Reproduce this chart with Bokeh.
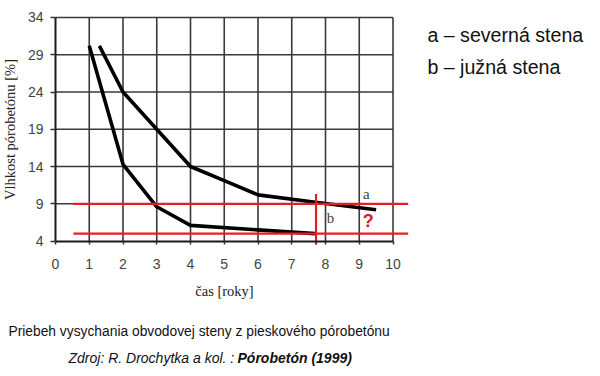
from bokeh.plotting import figure
from bokeh.models import LinearAxis, FixedTicker, Label, Range1d
from bokeh.core.properties import value
from bokeh.embed import file_html
from bokeh.resources import INLINE

# --- data ---
years_a = [1.3, 2, 3, 4, 5, 6, 7.7, 9.5]
moist_a = [30.2, 24.0, 19.0, 14.0, 12.1, 10.2, 9.2, 8.2]
years_b = [1, 2, 3, 4, 6, 7, 7.7]
moist_b = [30.2, 14.3, 8.6, 6.1, 5.5, 5.2, 5.0]
x_ticks = [0, 1, 2, 3, 4, 5, 6, 7, 8, 9, 10]
y_ticks = [4, 9, 14, 19, 24, 29, 34]
red_levels = [9, 5]
red_span = [0.53, 10.45]
red_year = 7.72
red_year_span = [3.5, 10.3]

SANS = "Liberation Sans"
SERIF = "Liberation Serif"

# the plot frame covers the whole canvas; the chart region is placed through the ranges
p = figure(width=600, height=376, x_range=Range1d(-1.6296, 16.148), y_range=Range1d(-14.178, 36.281),
           output_backend="svg", toolbar_location=None, x_axis_type=None, y_axis_type=None,
           min_border=0, min_border_left=0, min_border_right=0, min_border_top=0, min_border_bottom=0)
p.outline_line_color = None
p.background_fill_color = "white"
p.border_fill_color = "white"

# grid
gx = x_ticks[1:]
p.segment(x0=gx, y0=[y_ticks[0]] * len(gx), x1=gx, y1=[y_ticks[-1]] * len(gx),
          line_color="#3a3a3a", line_width=1.6)
gy = y_ticks[1:]
p.segment(x0=[x_ticks[0]] * len(gy), y0=gy, x1=[x_ticks[-1]] * len(gy), y1=gy,
          line_color="#3a3a3a", line_width=1.6)

# axes
xaxis = LinearAxis(ticker=FixedTicker(ticks=x_ticks), fixed_location=y_ticks[0],
                   bounds=(x_ticks[0], x_ticks[-1]), axis_label="čas [roky]")
yaxis = LinearAxis(ticker=FixedTicker(ticks=y_ticks), fixed_location=x_ticks[0],
                   bounds=(y_ticks[0], y_ticks[-1]), axis_label="Vlhkost pórobetónu [%]")
for ax in (xaxis, yaxis):
    ax.axis_line_color = "#1a1a1a"
    ax.axis_line_width = 2
    ax.major_tick_line_color = "#333333"
    ax.major_tick_line_width = 1.5
    ax.major_tick_in = 0
    ax.minor_tick_line_color = None
    ax.major_label_text_font = SANS
    ax.major_label_text_font_size = "14px"
    ax.major_label_text_color = "#444444"
    ax.axis_label_text_font = SERIF
    ax.axis_label_text_font_size = "14.5px"
    ax.axis_label_text_font_style = "normal"
    ax.axis_label_text_color = "#222222"
xaxis.major_tick_out = 3
xaxis.major_label_standoff = 15
xaxis.axis_label_standoff = 10
yaxis.major_tick_out = 5
yaxis.major_label_standoff = 7
yaxis.axis_label_standoff = 7
p.add_layout(xaxis, "below")
p.add_layout(yaxis, "left")

# curves
p.line(years_a, moist_a, line_color="black", line_width=3.6, line_join="round")
p.line(years_b, moist_b, line_color="black", line_width=3.6, line_join="round")

# red markers
RED = "#e3201e"
p.segment(x0=[red_span[0]] * 2, y0=red_levels, x1=[red_span[1]] * 2, y1=red_levels,
          line_color=RED, line_width=2.2)
p.segment(x0=[red_year], y0=[red_year_span[0]], x1=[red_year], y1=[red_year_span[1]],
          line_color=RED, line_width=2.2)

# curve labels
p.text(x=[9.21, 8.15], y=[10.35, 7.1], text=["a", "b"], text_font=value(SERIF),
       text_font_size="15px", text_color="#444444", text_align="center", text_baseline="middle")
p.text(x=[9.27], y=[6.7], text=["?"], text_font=value(SANS), text_font_size="18px",
       text_font_style="bold", text_color="#d42020", text_align="center", text_baseline="middle")

# legend texts and captions
def lab(x, y, t, size, style="normal"):
    p.add_layout(Label(x=x, y=y, text=t, text_font=SANS, text_font_size=size,
                       text_font_style=style, text_color="#111111",
                       text_baseline="alphabetic", text_align="left"))

lab(11.02, 31.68, "a – severná stena", "19.6px")
lab(11.02, 27.42, "b – južná stena", "19.6px")
lab(-1.393, -8.10, "Priebeh vysychania obvodovej steny z pieskového pórobetónu", "13.8px")
lab(0.385, -11.76, "Zdroj: R. Drochytka a kol. : ", "14px", "italic")
lab(5.393, -11.76, "Pórobetón (1999)", "14px", "bold italic")

open("out.html", "w").write(file_html(p, INLINE))
